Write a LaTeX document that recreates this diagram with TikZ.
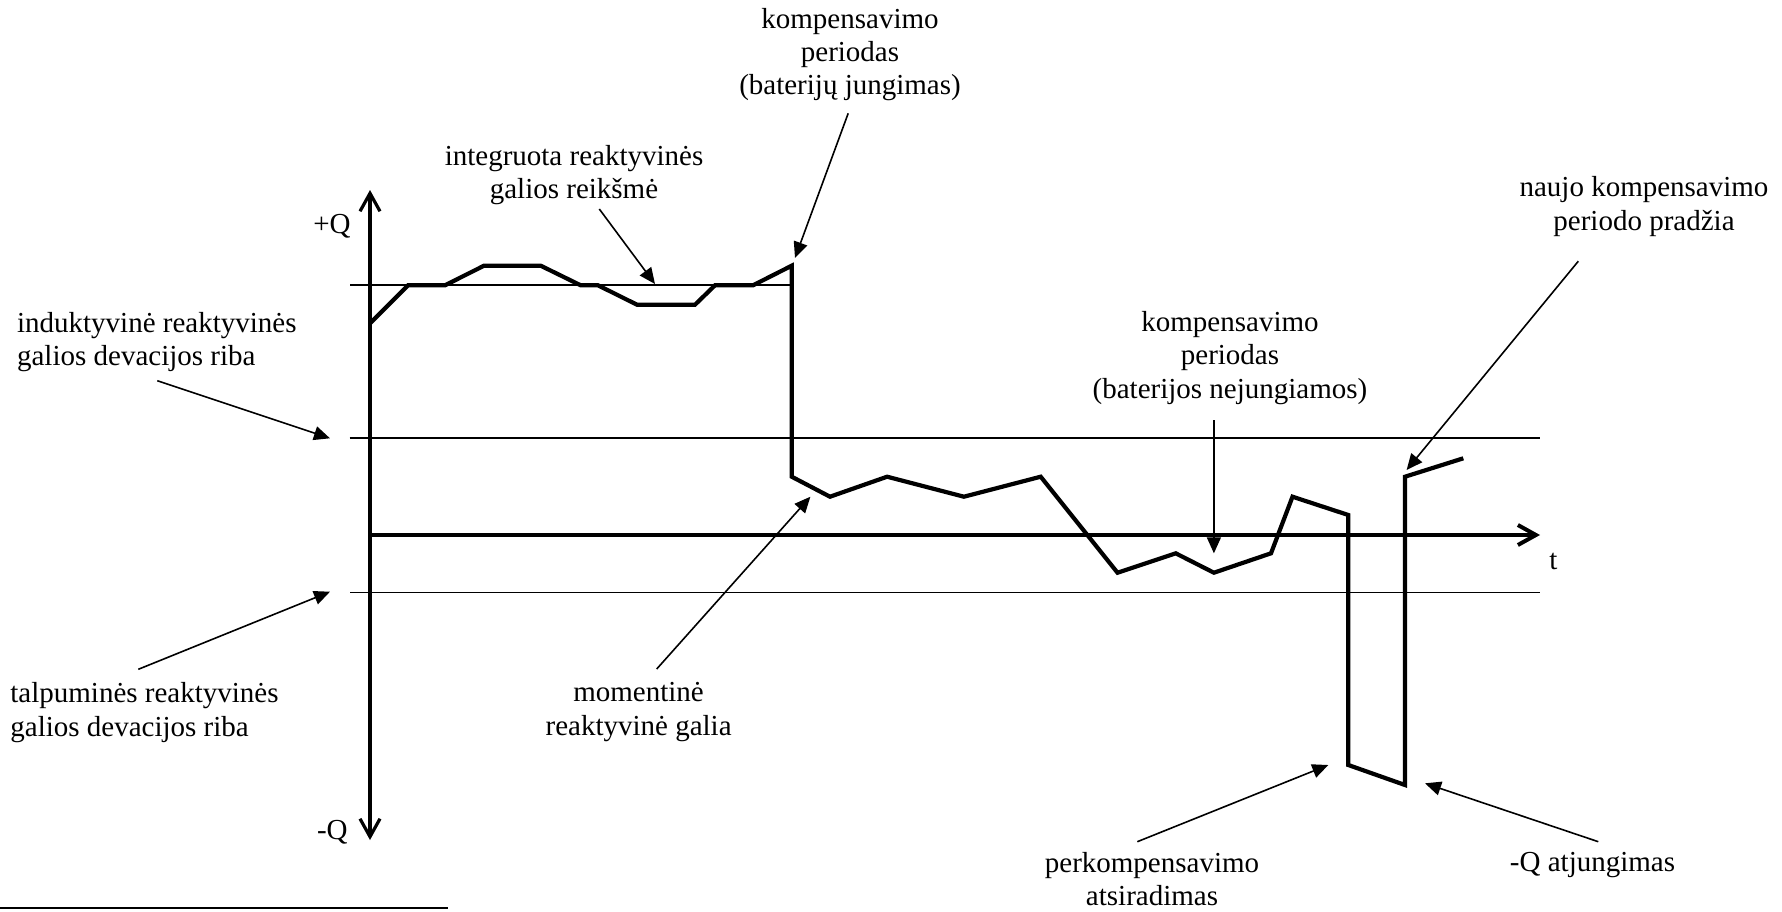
\documentclass[tikz,border=0pt]{standalone}
\usepackage{fontspec}
\setmainfont{Liberation Serif}
\usetikzlibrary{arrows.meta}
\tikzset{
  lbl/.style={font=\fontsize{14.5}{16.6}\selectfont, inner sep=0pt, align=center},
  lbll/.style={font=\fontsize{14.5}{16.6}\selectfont, inner sep=0pt, align=left, anchor=west},
  thinline/.style={line width=0.85pt},
  pointer/.style={line width=0.8pt, -{Triangle[length=8pt,width=7pt]}},
  axisline/.style={line width=1.6pt},
  taxis/.style={line width=2pt},
  curve/.style={line width=2.1pt, line join=miter},
}
\begin{document}
\begin{tikzpicture}[x=0.5pt,y=-0.5pt]
\useasboundingbox (0,0) rectangle (1782,911);

% axes
\coordinate (ytop) at (370,190);
\coordinate (ybot) at (370,840);
\coordinate (t0) at (370,535);
\coordinate (tend) at (1540,535);
\draw[axisline,{Straight Barb[length=9pt,width=10pt]}-{Straight Barb[length=9pt,width=10pt]}] (ybot) -- (ytop);
\draw[taxis,-{Straight Barb[length=9pt,width=10pt]}] (t0) -- (tend);

% reference lines
\coordinate (iL) at (350,285.3);
\coordinate (iR) at (791.7,285.3);
\draw[thinline] (iL) -- (iR);
\coordinate (uL) at (349.5,438.3);
\coordinate (uR) at (1540,438.3);
\draw[thinline] (uL) -- (uR);
\coordinate (lL) at (350,592.5);
\coordinate (lR) at (1540,592.5);
\draw[thinline] (lL) -- (lR);

% reactive power curve
\draw[curve] (370,323.3) -- (408,285.3) -- (445,285.3) -- (484,265.7) -- (540.7,265.7)
  -- (580.7,285.3) -- (598,285.3) -- (637,304.7) -- (695,304.7) -- (715,285.3)
  -- (753,285.3) -- (791.7,265.7) -- (791.7,476.7) -- (830,496.7) -- (887.1,476.7)
  -- (963.9,496.7) -- (1040.7,476.7) -- (1117.5,572.7) -- (1175.7,553.3)
  -- (1213.9,572.7) -- (1271,553.3) -- (1292.5,496.7) -- (1348.3,515)
  -- (1348.3,765) -- (1405,785) -- (1405,476.7) -- (1463.3,458.3);

% axis labels
\node[lbl] (pq) at (332,226.7) {+Q};
\node[lbl] (mq) at (332.3,832.7) {-Q};
\node[lbl] (tl) at (1553.3,561.7) {t};

% annotation labels
\node[lbl] (komp1) at (850,54.3) {kompensavimo\\periodas\\(baterijų jungimas)};
\node[lbl] (integ) at (574,175) {integruota reaktyvinės\\galios reikšmė};
\node[lbll] (induk) at (16.7,341.7) {induktyvinė reaktyvinės\\galios devacijos riba};
\node[lbll] (talp) at (10,712.5) {talpuminės reaktyvinės\\galios devacijos riba};
\node[lbl] (moment) at (638.6,712) {momentinė\\reaktyvinė galia};
\node[lbl] (komp2) at (1230,358) {kompensavimo\\periodas\\(baterijos nejungiamos)};
\node[lbl] (naujo) at (1644,206.5) {naujo kompensavimo\\periodo pradžia};
\node[lbl] (perk) at (1152,879) {perkompensavimo\\atsiradimas};
\node[lbl] (atj) at (1592.5,865) {-Q atjungimas};

% pointer ends
\coordinate (a1s) at (848.2,113.3);  \coordinate (a1e) at (795,258);
\coordinate (a2s) at (599.3,209);    \coordinate (a2e) at (655,284);
\coordinate (a3s) at (157.3,380.7);  \coordinate (a3e) at (330,438.3);
\coordinate (a4s) at (138.3,669.3);  \coordinate (a4e) at (330,591.7);
\coordinate (a5s) at (656.7,669);    \coordinate (a5e) at (810.4,496.7);
\coordinate (a6s) at (1213.9,420);   \coordinate (a6e) at (1213.9,553.3);
\coordinate (a7s) at (1578.3,261.2); \coordinate (a7e) at (1406.6,470);
\coordinate (a8s) at (1137.3,841.7); \coordinate (a8e) at (1328.3,765);
\coordinate (a9s) at (1598.3,841.7); \coordinate (a9e) at (1425,783.3);

\draw[pointer] (a1s) -- (a1e);
\draw[pointer] (a2s) -- (a2e);
\draw[pointer] (a3s) -- (a3e);
\draw[pointer] (a4s) -- (a4e);
\draw[pointer] (a5s) -- (a5e);
\draw[pointer] (a6s) -- (a6e);
\draw[pointer] (a7s) -- (a7e);
\draw[pointer] (a8s) -- (a8e);
\draw[pointer] (a9s) -- (a9e);

% footnote rule
\coordinate (fnL) at (0,908);
\coordinate (fnR) at (448,908);
\draw[line width=1pt] (fnL) -- (fnR);
\end{tikzpicture}
\end{document}
